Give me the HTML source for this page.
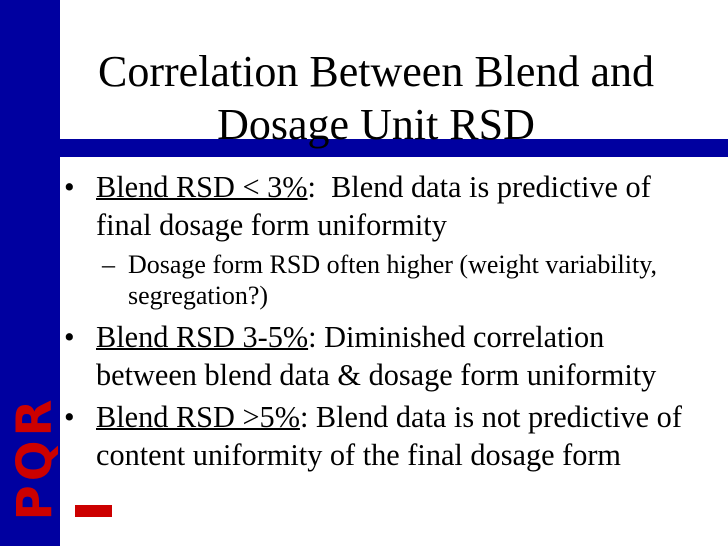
<!DOCTYPE html>
<html><head><meta charset="utf-8"><style>
body{margin:0;width:728px;height:546px;position:relative;background:#fff;overflow:hidden;font-family:"Liberation Serif",serif;color:#000}
.a{position:absolute;white-space:nowrap}
.t{font-size:44px;left:60px;width:632px;text-align:center}
.b{font-size:30.3px}
.s{font-size:26px}
u{text-decoration-thickness:2px}
</style></head><body>
<div class="a" style="left:0;top:0;width:60px;height:546px;background:#0000a0"></div>
<div class="a" style="left:60px;top:139px;width:668px;height:18px;background:#0000a0"></div>
<div class="a" style="left:35px;top:458px;transform:translate(-50%,-50%) rotate(-90deg);font-family:'DejaVu Sans',sans-serif;font-weight:bold;font-size:48px;color:#cc0000;letter-spacing:4px">PQR</div>
<div class="a" style="left:75px;top:505px;width:37px;height:12px;background:#cc0000"></div>
<div class="a t" style="top:45px;line-height:53px">Correlation Between Blend and<br>Dosage Unit RSD</div>
<div class="a b" style="left:64px;top:168px;line-height:38px">•<span style="position:absolute;left:32px"><u>Blend RSD &lt; 3%</u>:&nbsp; Blend data is predictive of<br>final dosage form uniformity</span></div>
<div class="a s" style="left:102px;top:249px;line-height:31px">–<span style="position:absolute;left:26px">Dosage form RSD often higher (weight variability,<br>segregation?)</span></div>
<div class="a b" style="left:64px;top:318px;line-height:38px">•<span style="position:absolute;left:32px"><u>Blend RSD 3-5%</u>: Diminished correlation<br>between blend data &amp; dosage form uniformity</span></div>
<div class="a b" style="left:64px;top:398px;line-height:38px">•<span style="position:absolute;left:32px"><u>Blend RSD &gt;5%</u>: Blend data is not predictive of<br>content uniformity of the final dosage form</span></div>
</body></html>
